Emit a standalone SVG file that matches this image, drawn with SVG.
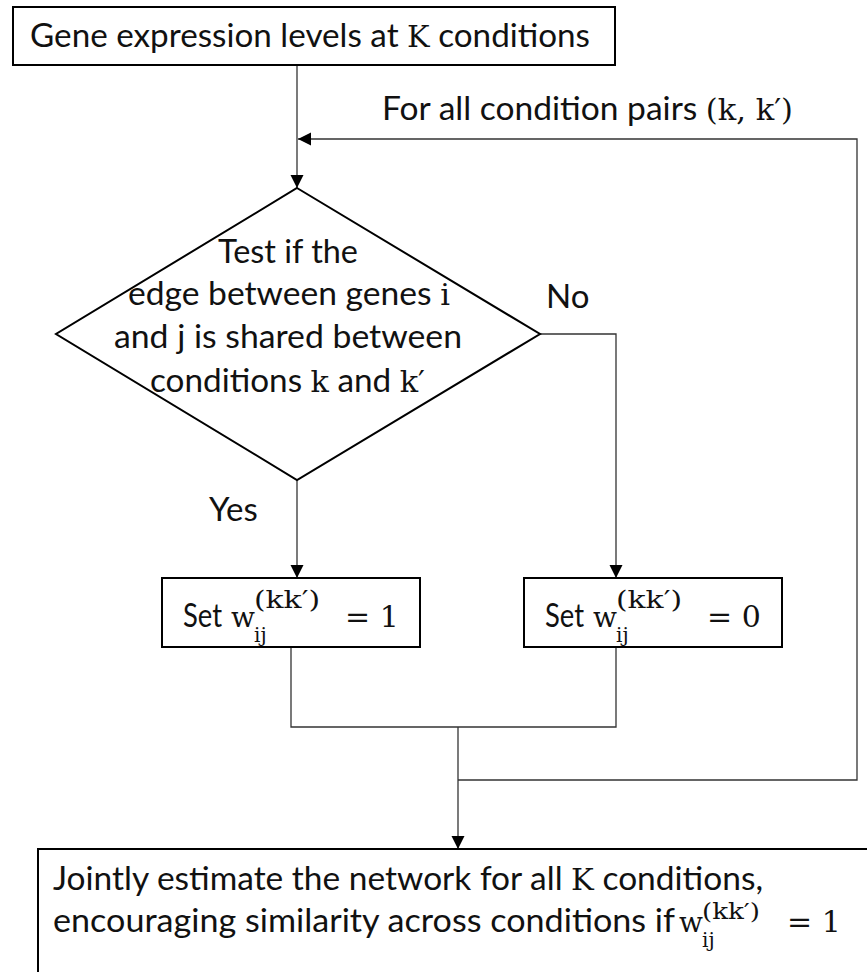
<svg xmlns="http://www.w3.org/2000/svg" width="867" height="972" viewBox="0 0 867 972">
<defs>
<marker id="arr" markerUnits="userSpaceOnUse" markerWidth="14" markerHeight="14" refX="13" refY="6.5" orient="auto">
<path d="M0,0 L13,6.5 L0,13 z" fill="#000"/>
</marker>
<style>
.box{fill:#fff;stroke:#000;stroke-width:2}
.conn{fill:none;stroke:#333;stroke-width:1.3}
.t{font-family:Lato,"Open Sans","Liberation Sans",sans-serif;font-size:33px;fill:#111}
.m{font-family:"DejaVu Serif","Liberation Serif",serif;font-size:30px;fill:#111}
.w{font-family:"DejaVu Serif","Liberation Serif",serif;font-size:28px;fill:#111}
.sub{font-family:"DejaVu Serif","Liberation Serif",serif;font-size:20px;fill:#111}
.sup{font-family:"DejaVu Serif","Liberation Serif",serif;font-size:25px;fill:#111}
.sup2{font-family:"DejaVu Serif","Liberation Serif",serif;font-size:23px;fill:#111}
</style>
</defs>
<rect width="867" height="972" fill="#fff"/>
<g id="connectors">
<path class="conn" d="M297,65 V188" marker-end="url(#arr)"/>
<path class="conn" d="M458,780 H857 V139 H298" marker-end="url(#arr)"/>
<path class="conn" d="M297,480 V578" marker-end="url(#arr)"/>
<path class="conn" d="M540,334 H616 V578" marker-end="url(#arr)"/>
<path class="conn" d="M291,647 V727 H616 V647"/>
<path class="conn" d="M458,727 V849" marker-end="url(#arr)"/>
</g>
<g id="start">
<rect class="box" x="13" y="7" width="602" height="58"/>
<text class="t" x="30" y="47" textLength="560" lengthAdjust="spacingAndGlyphs">Gene expression levels at <tspan class="m">K</tspan> conditions</text>
</g>
<g id="loop-label">
<text class="t" x="382" y="120" textLength="411" lengthAdjust="spacingAndGlyphs">For all condition pairs <tspan class="m">(k, k′)</tspan></text>
</g>
<g id="decision">
<polygon class="box" points="297,188 540,334 297,480 56,334"/>
<text class="t" x="218" y="263" textLength="140" lengthAdjust="spacingAndGlyphs">Test if the</text>
<text class="t" x="128" y="305" textLength="322" lengthAdjust="spacingAndGlyphs">edge between genes <tspan class="m">i</tspan></text>
<text class="t" x="114" y="348" textLength="348" lengthAdjust="spacingAndGlyphs">and j is shared between</text>
<text class="t" x="150" y="392" textLength="275" lengthAdjust="spacingAndGlyphs">conditions <tspan class="m">k</tspan> and <tspan class="m">k′</tspan></text>
</g>
<g id="label-no"><text class="t" x="546" y="308">No</text></g>
<g id="label-yes"><text class="t" x="209" y="521">Yes</text></g>
<g id="set-one">
<rect class="box" x="162" y="578" width="258" height="69"/>
<text class="t" x="183" y="627" textLength="39" lengthAdjust="spacingAndGlyphs">Set</text>
<text class="w" x="231" y="627">w</text>
<text class="sub" x="254" y="642">ij</text>
<text class="sup" x="254" y="608" textLength="66" lengthAdjust="spacingAndGlyphs">(kk′)</text>
<text class="m" x="345" y="627">= 1</text>
</g>
<g id="set-zero">
<rect class="box" x="524" y="578" width="258" height="69"/>
<text class="t" x="545" y="627" textLength="39" lengthAdjust="spacingAndGlyphs">Set</text>
<text class="w" x="593" y="627">w</text>
<text class="sub" x="616" y="642">ij</text>
<text class="sup" x="616" y="608" textLength="66" lengthAdjust="spacingAndGlyphs">(kk′)</text>
<text class="m" x="707" y="627">= 0</text>
</g>
<g id="estimate">
<rect class="box" x="38" y="849" width="860" height="150"/>
<text class="t" x="53" y="890" textLength="710" lengthAdjust="spacingAndGlyphs">Jointly estimate the network for all <tspan class="m">K</tspan> conditions,</text>
<text class="t" x="53" y="932" textLength="622" lengthAdjust="spacingAndGlyphs">encouraging similarity across conditions if</text>
<text class="w" x="679" y="932">w</text>
<text class="sub" x="702" y="947">ij</text>
<text class="sup2" x="702" y="919" textLength="58" lengthAdjust="spacingAndGlyphs">(kk′)</text>
<text class="m" x="787" y="932">= 1</text>
</g>
</svg>
